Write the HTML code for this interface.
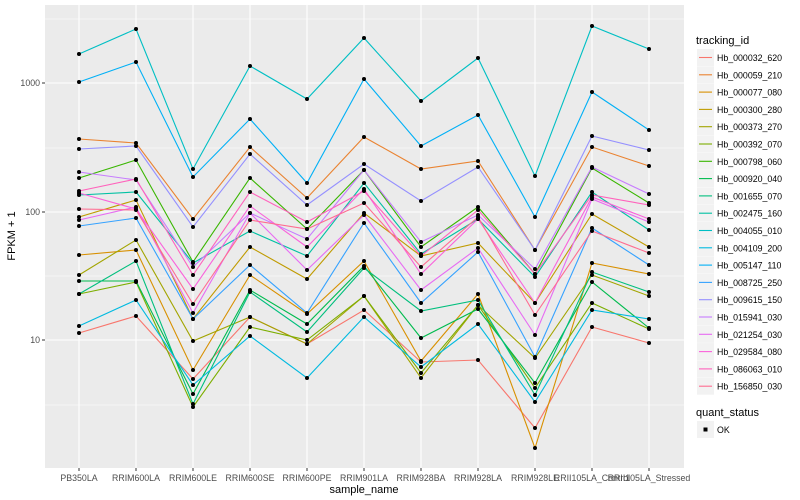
<!DOCTYPE html>
<html><head><meta charset="utf-8"><style>
html,body{margin:0;padding:0;background:#fff;}
svg{display:block;font-family:"Liberation Sans",sans-serif;}
</style></head><body>
<svg width="800" height="500" viewBox="0 0 800 500" xmlns="http://www.w3.org/2000/svg">
<rect x="0" y="0" width="800" height="500" fill="#fff"/>
<rect x="45" y="5" width="639" height="463" fill="#EBEBEB"/>
<g stroke="#fff" stroke-width="0.55">
<line x1="45" x2="684" y1="19" y2="19"/><line x1="45" x2="684" y1="148" y2="148"/><line x1="45" x2="684" y1="276" y2="276"/><line x1="45" x2="684" y1="405" y2="405"/>
</g>
<g stroke="#fff" stroke-width="1.1">
<line x1="45" x2="684" y1="83" y2="83"/><line x1="45" x2="684" y1="212" y2="212"/><line x1="45" x2="684" y1="340" y2="340"/>
<line x1="79" x2="79" y1="5" y2="468"/><line x1="136" x2="136" y1="5" y2="468"/><line x1="193" x2="193" y1="5" y2="468"/><line x1="250" x2="250" y1="5" y2="468"/><line x1="307" x2="307" y1="5" y2="468"/><line x1="364" x2="364" y1="5" y2="468"/><line x1="421" x2="421" y1="5" y2="468"/><line x1="478" x2="478" y1="5" y2="468"/><line x1="535" x2="535" y1="5" y2="468"/><line x1="592" x2="592" y1="5" y2="468"/><line x1="649" x2="649" y1="5" y2="468"/>
</g>
<g id="series" fill="none" stroke-width="1.1"></g>
<g id="pts" fill="#000"></g>
<g stroke="#333" stroke-width="1">
<line x1="42" x2="45" y1="83" y2="83"/><line x1="42" x2="45" y1="212" y2="212"/><line x1="42" x2="45" y1="340" y2="340"/>
</g>
<g font-size="8.8" fill="#4D4D4D" text-anchor="end">
<text x="40" y="86">1000</text><text x="40" y="215">100</text><text x="40" y="343">10</text>
</g>
<g stroke="#333" stroke-width="1" id="xt"></g>
<g font-size="8.8" fill="#4D4D4D" text-anchor="middle" id="xl">
<text x="79" y="481">PB350LA</text><text x="136" y="481">RRIM600LA</text><text x="193" y="481">RRIM600LE</text><text x="250" y="481">RRIM600SE</text><text x="307" y="481">RRIM600PE</text><text x="364" y="481">RRIM901LA</text><text x="421" y="481">RRIM928BA</text><text x="478" y="481">RRIM928LA</text><text x="535" y="481">RRIM928LE</text><text x="592" y="481">RRII105LA_Control</text><text x="649" y="481">RRII105LA_Stressed</text>
</g>
<text x="364" y="493" font-size="11" text-anchor="middle" fill="#000">sample_name</text>
<text transform="translate(15,236) rotate(-90)" font-size="11" text-anchor="middle" fill="#000">FPKM + 1</text>
<text x="696" y="44" font-size="11" fill="#000">tracking_id</text>
<g id="leg"></g>
<text x="696" y="416" font-size="11" fill="#000">quant_status</text>
<rect x="697" y="421" width="17" height="17" fill="#F2F2F2"/>
<rect x="703.5" y="427.5" width="4" height="4" fill="#000"/>
<text x="717" y="433" font-size="8.8" fill="#000">OK</text>
<script>
var X=[79,136,193,250,307,364,421,478,535,592,649];
var S=[
["Hb_000032_620","#F8766D",[333,316,379,317,344,310,362,360,428,327,343]],
["Hb_000059_210","#EA8331",[139,143,219,147,198,137,169,161,250,147,166]],
["Hb_000077_080","#D89000",[255,250,370,275,314,261,361,294,448,263,274]],
["Hb_000300_280","#C09B00",[217,200,319,247,279,213,256,243,303,214,247]],
["Hb_000373_270","#A3A500",[275,240,341,317,344,296,378,305,358,275,296]],
["Hb_000392_070","#7CAE00",[294,282,407,327,340,296,373,305,388,303,329]],
["Hb_000798_060","#39B600",[178,160,262,178,229,170,247,207,274,168,203]],
["Hb_000920_040","#00BB4E",[281,281,394,290,324,266,338,309,383,282,328]],
["Hb_001655_070","#00BF7D",[294,261,404,292,332,268,311,300,395,272,292]],
["Hb_002475_160","#00C1A3",[195,192,263,231,256,183,254,219,277,192,230]],
["Hb_004055_010","#00BFC4",[54,29,169,66,99,38,101,58,176,26,49]],
["Hb_004109_200","#00BAE0",[326,300,385,336,378,317,367,324,402,310,319]],
["Hb_005147_110","#00B0F6",[82,62,177,119,183,79,146,115,217,92,130]],
["Hb_008725_250","#35A2FF",[226,218,319,265,313,223,303,252,357,228,265]],
["Hb_009615_150","#9590FF",[149,146,227,154,205,164,201,167,250,136,150]],
["Hb_015941_030","#C77CFF",[172,180,267,213,239,170,242,215,269,167,194]],
["Hb_021254_030","#E76BF3",[220,207,313,213,270,215,290,248,335,199,222]],
["Hb_029584_080","#FA62DB",[193,209,289,206,247,189,274,219,303,197,219]],
["Hb_086063_010","#FF62BC",[191,179,275,192,222,191,256,210,274,195,205]],
["Hb_156850_030","#FF6C91",[209,210,304,220,229,203,267,217,315,231,253]]];
var ns="http://www.w3.org/2000/svg",g=document.getElementById("series"),p=document.getElementById("pts"),lg=document.getElementById("leg"),xt=document.getElementById("xt");
X.forEach(function(x){var l=document.createElementNS(ns,"line");l.setAttribute("x1",x);l.setAttribute("x2",x);l.setAttribute("y1",468);l.setAttribute("y2",471);xt.appendChild(l);});
S.forEach(function(s,i){
 var pl=document.createElementNS(ns,"polyline");
 pl.setAttribute("points",s[2].map(function(y,j){return X[j]+","+y}).join(" "));
 pl.setAttribute("stroke",s[1]);g.appendChild(pl);
 s[2].forEach(function(y,j){var c=document.createElementNS(ns,"circle");c.setAttribute("cx",X[j]);c.setAttribute("cy",y);c.setAttribute("r",2);p.appendChild(c);});
 var yy=49+i*17.3;
 var r=document.createElementNS(ns,"rect");r.setAttribute("x",697);r.setAttribute("y",yy);r.setAttribute("width",17);r.setAttribute("height",17);r.setAttribute("fill","#F2F2F2");lg.appendChild(r);
 var l=document.createElementNS(ns,"line");l.setAttribute("x1",699);l.setAttribute("x2",712);l.setAttribute("y1",yy+8.5);l.setAttribute("y2",yy+8.5);l.setAttribute("stroke",s[1]);l.setAttribute("stroke-width",1.1);lg.appendChild(l);
 var t=document.createElementNS(ns,"text");t.setAttribute("x",717);t.setAttribute("y",yy+12);t.setAttribute("font-size","8.8");t.textContent=s[0];lg.appendChild(t);
});
</script>
</svg>
</body></html>
